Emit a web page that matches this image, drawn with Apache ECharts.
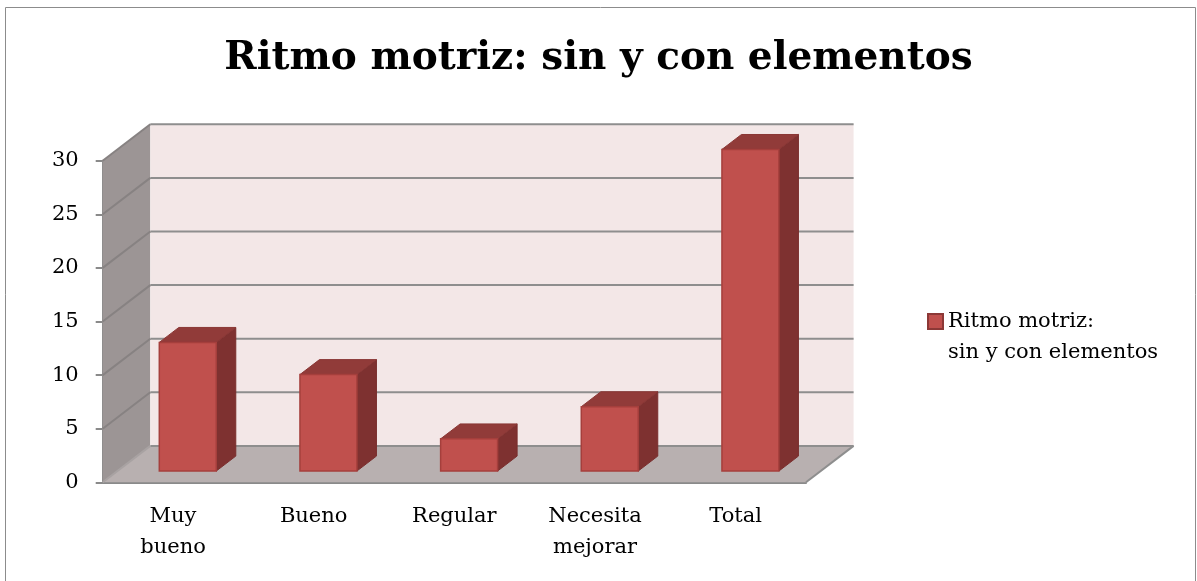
<!DOCTYPE html>
<html>
<head>
<meta charset="utf-8">
<script src="https://cdn.jsdelivr.net/npm/echarts@6/dist/echarts.min.js"></script>
<style>
  html, body { margin: 0; padding: 0; background: #fff; }
  #container { width: 1197px; height: 581px; }
</style>
</head>
<body>
<div id="container"></div>
<script type="text/javascript">
// datos del grafico
var categories = ['Muy\nbueno', 'Bueno', 'Regular', 'Necesita\nmejorar', 'Total'];
var values = [12, 9, 3, 6, 30];
var yTicks = [0, 5, 10, 15, 20, 25, 30];
var seriesName = 'Ritmo motriz: sin y con elementos';

// profundidad del efecto 3D (px)
var DX = 47.6, DY = 36.4;
var F1 = 0.31, F2 = 0.72;
var FONT = 'DejaVu Serif';

var myChart = echarts.init(document.getElementById('container'));

function renderWalls(params, api) {
    var cs = params.coordSys;
    var L = cs.x, R = cs.x + cs.width;
    var y0 = api.coord([0, yTicks[0]])[1];
    var yMax = api.coord([0, yTicks[yTicks.length - 1]])[1];
    var children = [];
    // pared izquierda
    children.push({
        type: 'polygon',
        shape: { points: [[L, y0], [L, yMax], [L + DX, yMax - DY], [L + DX, y0 - DY]] },
        style: { fill: '#9c9595' }
    });
    // piso
    children.push({
        type: 'polygon',
        shape: { points: [[L, y0], [R, y0], [R + DX, y0 - DY], [L + DX, y0 - DY]] },
        style: { fill: '#b8b0b0' }
    });
    // pared del fondo
    children.push({
        type: 'rect',
        shape: { x: L + DX, y: yMax - DY, width: R - L, height: y0 - yMax },
        style: { fill: '#f3e7e7' }
    });
    for (var k = 0; k < yTicks.length; k++) {
        var yv = api.coord([0, yTicks[k]])[1];
        children.push({
            type: 'line',
            shape: { x1: L + DX, y1: yv - DY, x2: R + DX, y2: yv - DY },
            style: { stroke: '#8e8e8e', lineWidth: 2 }
        });
        children.push({
            type: 'line',
            shape: { x1: L, y1: yv, x2: L + DX, y2: yv - DY },
            style: { stroke: k === 0 ? '#a8a2a2' : '#878282', lineWidth: 2 }
        });
    }
    // borde derecho del piso
    children.push({
        type: 'line',
        shape: { x1: R, y1: y0, x2: R + DX, y2: y0 - DY },
        style: { stroke: '#8e8e8e', lineWidth: 2 }
    });
    return { type: 'group', children: children };
}

function renderBar(params, api) {
    var i = api.value(0), v = api.value(1);
    var base = api.coord([i, 0]);
    var top = api.coord([i, v]);
    var w = api.size([1, 0])[0] * 0.405;
    var fx = DX * F1, fy = DY * F1;
    var ddx = DX * (F2 - F1), ddy = DY * (F2 - F1);
    var x0 = base[0] - w / 2 + fx, x1 = x0 + w;
    var yb = base[1] - fy, yt = top[1] - fy;
    return {
        type: 'group',
        children: [
            {
                type: 'polygon',
                shape: { points: [[x1, yt], [x1 + ddx, yt - ddy], [x1 + ddx, yb - ddy], [x1, yb]] },
                style: { fill: '#7e3130', stroke: '#7a2e2d', lineWidth: 1 }
            },
            {
                type: 'polygon',
                shape: { points: [[x0, yt], [x1, yt], [x1 + ddx, yt - ddy], [x0 + ddx, yt - ddy]] },
                style: { fill: '#913b39', stroke: '#8a3735', lineWidth: 1 }
            },
            {
                type: 'rect',
                shape: { x: x0, y: yt, width: w, height: yb - yt },
                style: { fill: '#c0504d', stroke: '#a53f3c', lineWidth: 1.5 }
            }
        ]
    };
}

var option = {
    animation: false,
    title: {
        text: seriesName,
        left: 'center',
        top: 34,
        textStyle: { fontFamily: FONT, fontSize: 39, fontWeight: 'bold', color: '#000' }
    },
    legend: {
        data: [seriesName],
        left: 927,
        top: 275,
        padding: 0,
        icon: 'rect',
        itemWidth: 15,
        itemHeight: 15,
        // primera linea vacia para alinear el icono con "Ritmo motriz:"
        formatter: function () { return '\u00a0\nRitmo motriz:\nsin y con elementos'; },
        textStyle: { fontFamily: FONT, fontSize: 21, lineHeight: 31, color: '#000' }
    },
    graphic: [{
        type: 'rect',
        shape: { x: 5.5, y: 7.5, width: 1190, height: 600 },
        style: { fill: 'none', stroke: '#8c8c8c', lineWidth: 1 },
        silent: true
    }],
    grid: { left: 102.7, right: 391, top: 160.7, bottom: 98.7 },
    xAxis: {
        type: 'category',
        data: categories,
        axisLine: { lineStyle: { color: '#8a8a8a', width: 2 } },
        axisTick: { length: 7, lineStyle: { color: '#8a8a8a', width: 2 } },
        axisLabel: { fontFamily: FONT, fontSize: 21, lineHeight: 31, color: '#000', margin: 19, interval: 0 }
    },
    yAxis: {
        type: 'value',
        min: 0,
        max: 30,
        interval: 5,
        axisLine: { show: true, lineStyle: { color: '#8a8a8a', width: 2 } },
        axisTick: { show: true, length: 7, lineStyle: { color: '#8a8a8a', width: 2 } },
        splitLine: { show: false },
        axisLabel: { fontFamily: FONT, fontSize: 21, color: '#000', margin: 24, padding: [4, 0, 0, 0] }
    },
    series: [
        {
            name: 'walls',
            type: 'custom',
            renderItem: renderWalls,
            data: [[0, 0]],
            z: 1,
            silent: true
        },
        {
            name: seriesName,
            type: 'custom',
            renderItem: renderBar,
            itemStyle: { color: '#c0504d', borderColor: '#8c3836', borderWidth: 1 },
            encode: { x: 0, y: 1 },
            data: values.map(function (v, i) { return [i, v]; }),
            z: 3
        }
    ]
};

myChart.setOption(option);
</script>
</body>
</html>
